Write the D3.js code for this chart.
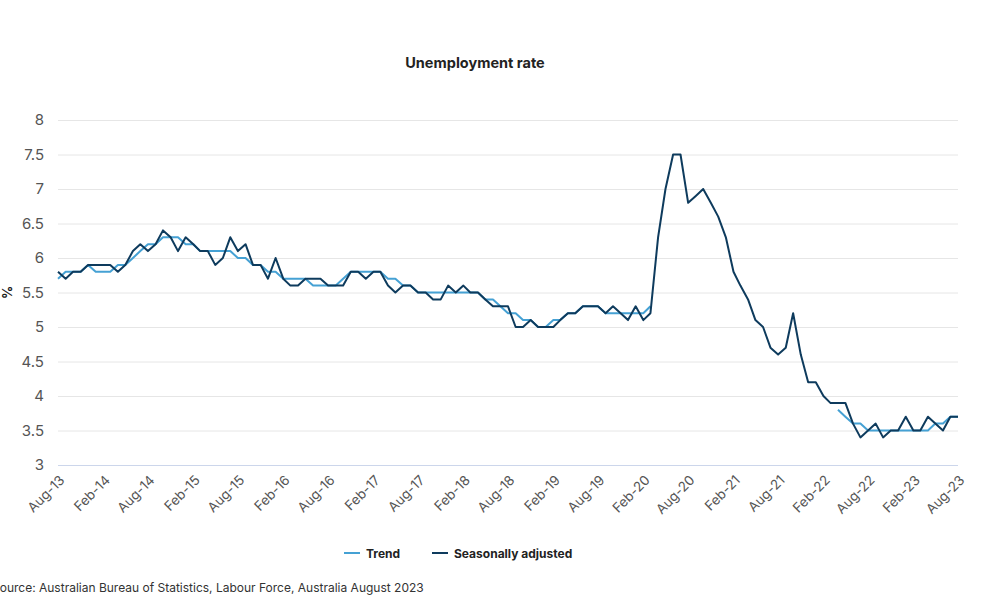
<!DOCTYPE html>
<html>
<head>
<meta charset="utf-8">
<script src="https://cdn.jsdelivr.net/npm/d3@7"></script>
<style>
  html, body { margin: 0; padding: 0; background: #ffffff; }
  svg { display: block; font-family: Inter, "Open Sans", "Noto Sans", sans-serif; }
</style>
</head>
<body>
<svg id="chart" width="1000" height="604"></svg>
<script>
// ---- Data ----
const startMonth = new Date(2013, 7, 1);   // Aug 2013
const endMonth = new Date(2023, 7, 1);     // Aug 2023

const seasonallyAdjusted = [
  5.8,5.7,5.8,5.8,5.9,5.9,5.9,5.9,5.8,5.9,6.1,6.2,
  6.1,6.2,6.4,6.3,6.1,6.3,6.2,6.1,6.1,5.9,6.0,6.3,
  6.1,6.2,5.9,5.9,5.7,6.0,5.7,5.6,5.6,5.7,5.7,5.7,
  5.6,5.6,5.6,5.8,5.8,5.7,5.8,5.8,5.6,5.5,5.6,5.6,
  5.5,5.5,5.4,5.4,5.6,5.5,5.6,5.5,5.5,5.4,5.3,5.3,
  5.3,5.0,5.0,5.1,5.0,5.0,5.0,5.1,5.2,5.2,5.3,5.3,
  5.3,5.2,5.3,5.2,5.1,5.3,5.1,5.2,6.3,7.0,7.5,7.5,
  6.8,6.9,7.0,6.8,6.6,6.3,5.8,5.6,5.4,5.1,5.0,4.7,
  4.6,4.7,5.2,4.6,4.2,4.2,4.0,3.9,3.9,3.9,3.6,3.4,
  3.5,3.6,3.4,3.5,3.5,3.7,3.5,3.5,3.7,3.6,3.5,3.7,3.7
];

const trend = [
  5.7,5.8,5.8,5.8,5.9,5.8,5.8,5.8,5.9,5.9,6.0,6.1,
  6.2,6.2,6.3,6.3,6.3,6.2,6.2,6.1,6.1,6.1,6.1,6.1,
  6.0,6.0,5.9,5.9,5.8,5.8,5.7,5.7,5.7,5.7,5.6,5.6,
  5.6,5.6,5.7,5.8,5.8,5.8,5.8,5.8,5.7,5.7,5.6,5.6,
  5.5,5.5,5.5,5.5,5.5,5.5,5.5,5.5,5.5,5.4,5.4,5.3,
  5.2,5.2,5.1,5.1,5.0,5.0,5.1,5.1,5.2,5.2,5.3,5.3,
  5.3,5.2,5.2,5.2,5.2,5.2,5.2,5.3,null,null,null,null,
  null,null,null,null,null,null,null,null,null,null,null,null,
  null,null,null,null,null,null,null,null,3.8,3.7,3.6,3.6,
  3.5,3.5,3.5,3.5,3.5,3.5,3.5,3.5,3.5,3.6,3.6,3.7,3.7
];

const yTicks = [3, 3.5, 4, 4.5, 5, 5.5, 6, 6.5, 7, 7.5, 8];
const xTickLabels = ["Aug-13","Feb-14","Aug-14","Feb-15","Aug-15","Feb-16","Aug-16",
  "Feb-17","Aug-17","Feb-18","Aug-18","Feb-19","Aug-19","Feb-20","Aug-20","Feb-21",
  "Aug-21","Feb-22","Aug-22","Feb-23","Aug-23"];

const seriesNames = ["Trend", "Seasonally adjusted"];
const seriesColors = ["#45a1d4", "#0e3b5d"];

const titleText = "Unemployment rate";
const yAxisTitle = "%";
const sourceText = "Source: Australian Bureau of Statistics, Labour Force, Australia August 2023";

// ---- Build ----
const months = d3.timeMonth.range(startMonth, d3.timeMonth.offset(endMonth, 1));
const tickDates = d3.timeMonth.range(startMonth, d3.timeMonth.offset(endMonth, 1), 6);

const svg = d3.select("#chart");
const margin = { left: 58, right: 42, top: 120, bottom: 139 };
const W = 1000, H = 604;

const x = d3.scaleTime().domain([startMonth, endMonth]).range([margin.left, W - margin.right]);
const y = d3.scaleLinear().domain([3, 8]).range([H - margin.bottom, margin.top]);

// title
svg.append("text")
  .attr("x", 475).attr("y", 68)
  .attr("text-anchor", "middle")
  .attr("font-size", 14.5).attr("font-weight", 700).attr("fill", "#222")
  .text(titleText);

// gridlines + y labels
const yAxis = d3.axisLeft(y).tickValues(yTicks).tickSize(-(W - margin.left - margin.right))
  .tickFormat(d => d3.format("")(d)).tickPadding(14);
const gy = svg.append("g").attr("transform", `translate(${margin.left},0)`).call(yAxis);
gy.select(".domain").remove();
gy.selectAll(".tick line").attr("stroke", d => d === 3 ? "#ccd6eb" : "#e6e6e6").attr("stroke-width", 1);
gy.selectAll(".tick text").attr("font-size", 15).attr("fill", "#555").attr("font-family", "Inter, 'Open Sans', sans-serif");

// y axis title
svg.append("text")
  .attr("transform", `translate(12,${y(5.5)}) rotate(-90)`)
  .attr("text-anchor", "middle")
  .attr("font-size", 13).attr("font-weight", 700).attr("fill", "#222")
  .text(yAxisTitle);

// x axis
const xAxis = d3.axisBottom(x).tickValues(tickDates).tickSize(0)
  .tickFormat((d, i) => xTickLabels[i]);
const gx = svg.append("g").attr("transform", `translate(0,${y(3)})`).call(xAxis);
gx.select(".domain").remove();
gx.selectAll(".tick text")
  .attr("font-size", 13.5).attr("fill", "#555")
  .attr("text-anchor", "end")
  .attr("x", 0).attr("y", 0).attr("dy", 0)
  .attr("transform", "translate(7,16) rotate(-45)")
  .attr("font-family", "Inter, 'Open Sans', sans-serif");

// lines
const line = d3.line()
  .defined(d => d.v !== null)
  .x(d => x(d.date)).y(d => y(d.v));

const seriesData = [trend, seasonallyAdjusted].map(arr => arr.map((v, i) => ({ date: months[i], v })));

seriesData.forEach((data, k) => {
  svg.append("path")
    .datum(data)
    .attr("fill", "none")
    .attr("stroke", seriesColors[k])
    .attr("stroke-width", 2)
    .attr("stroke-linejoin", "round")
    .attr("d", line);
});

// legend
const legendX = [344, 432];
const lg = svg.append("g");
seriesNames.forEach((name, k) => {
  const g = lg.append("g").attr("transform", `translate(${legendX[k]},553)`);
  g.append("line").attr("x1", 0).attr("x2", 16).attr("y1", 0).attr("y2", 0)
    .attr("stroke", seriesColors[k]).attr("stroke-width", 2);
  g.append("text").attr("x", 22).attr("y", 4.5)
    .attr("font-size", 12).attr("font-weight", 700).attr("fill", "#222")
    .text(name);
});

// source
svg.append("text")
  .attr("x", -8).attr("y", 592)
  .attr("font-size", 12).attr("fill", "#333")
  .text(sourceText);
</script>
</body>
</html>
